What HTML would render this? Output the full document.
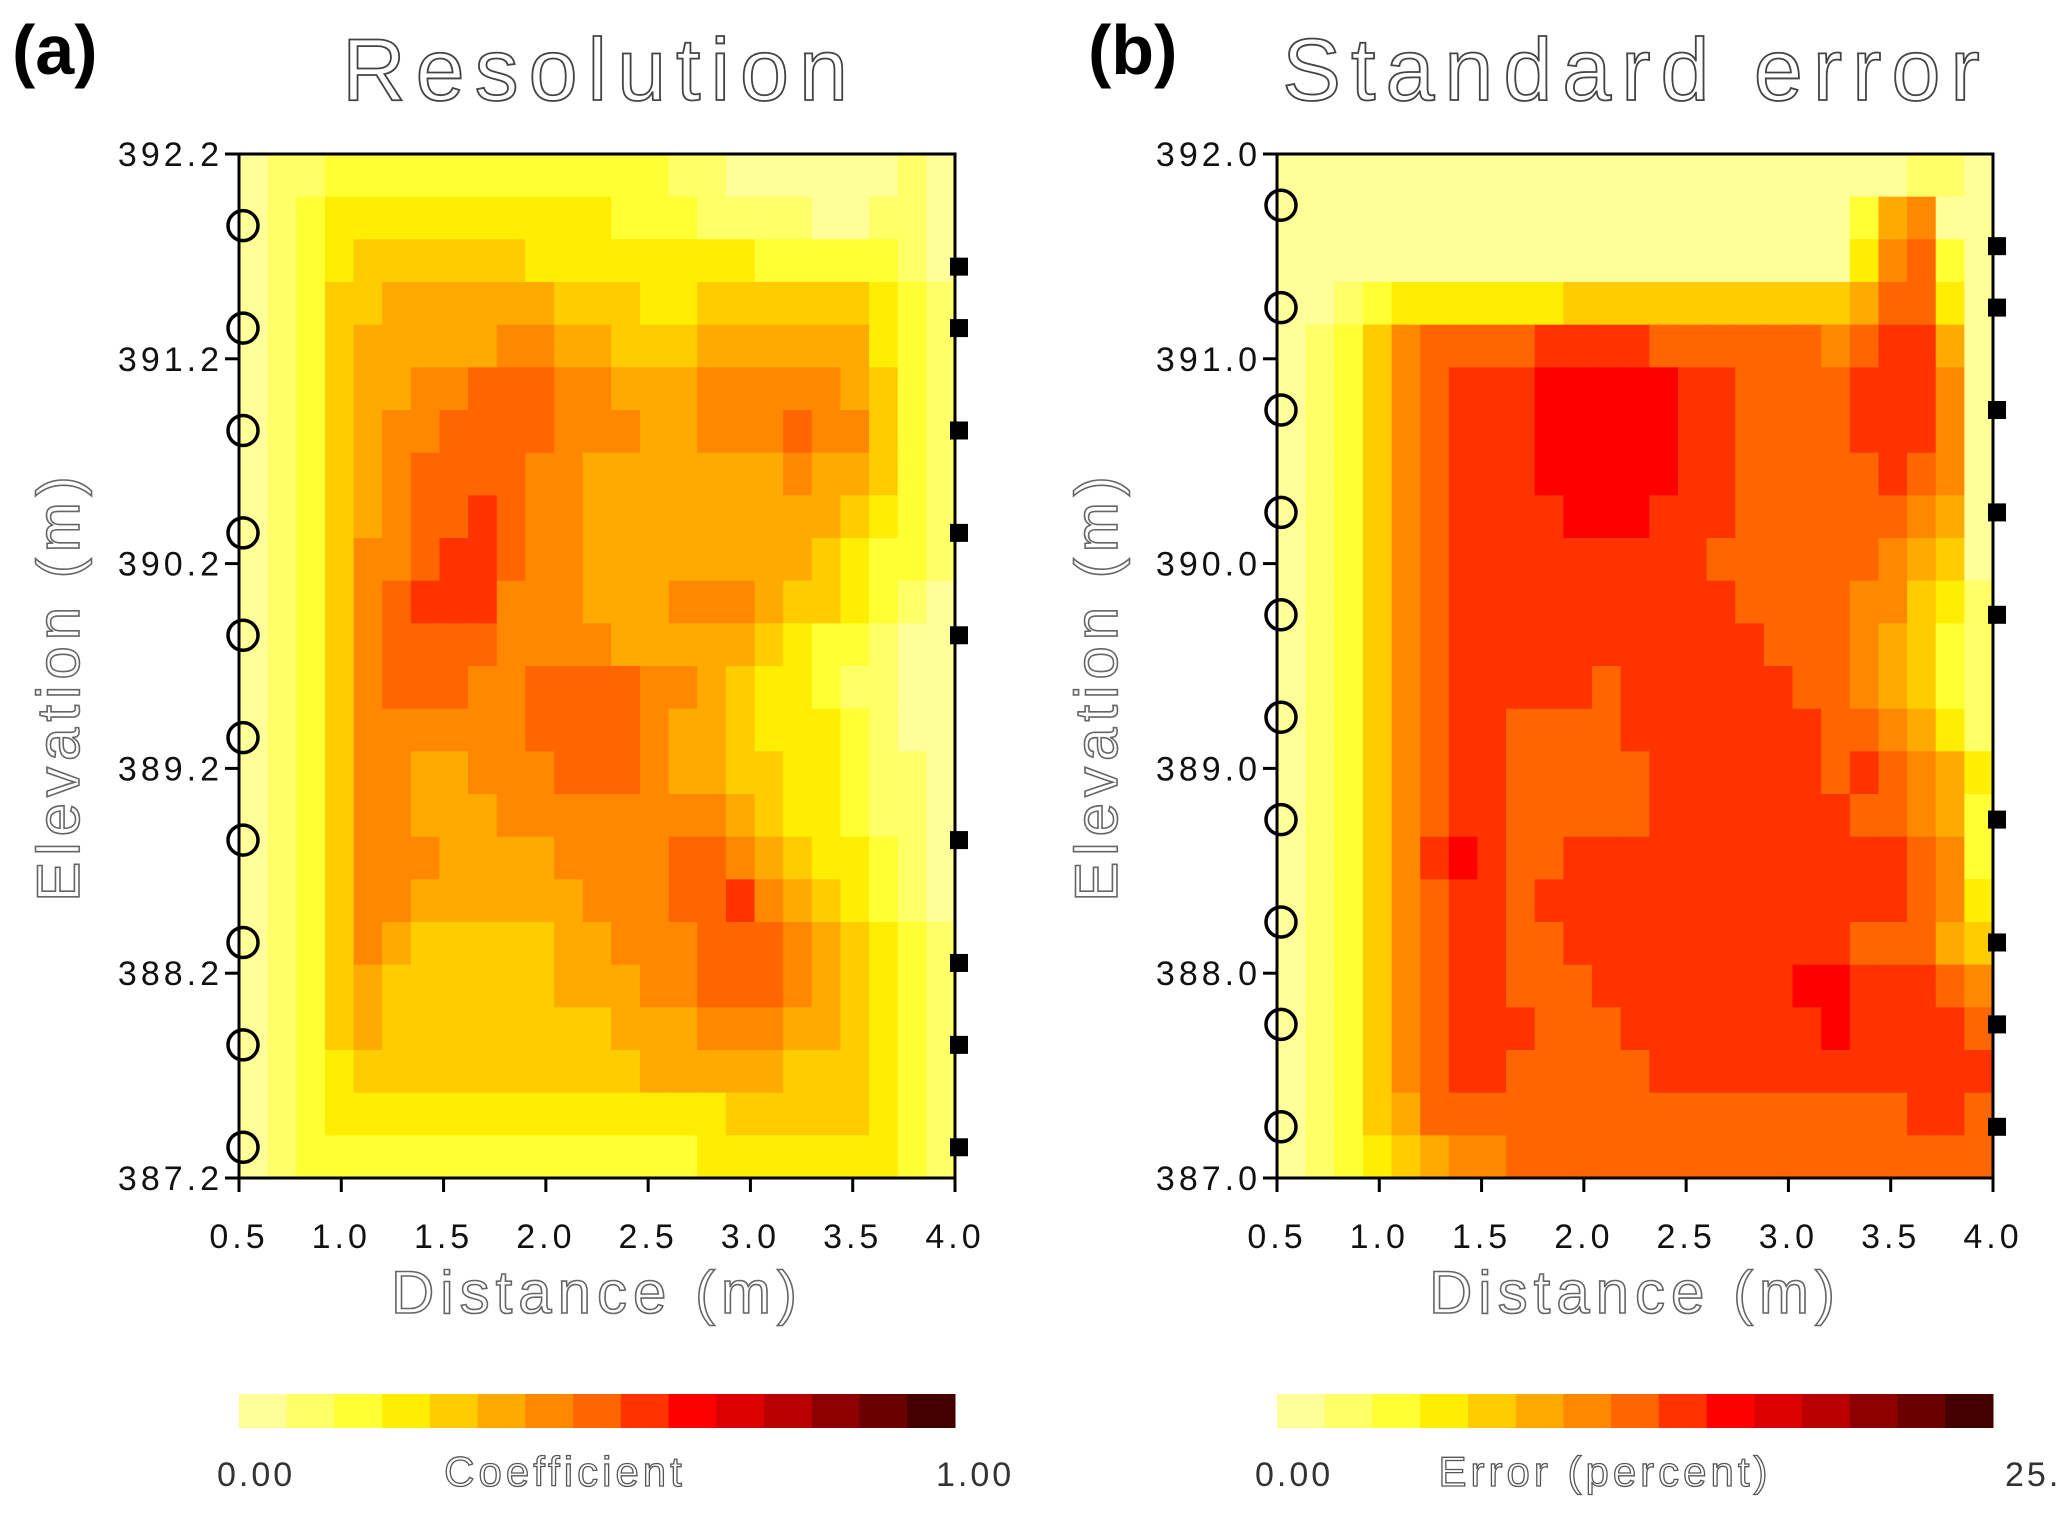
<!DOCTYPE html>
<html><head><meta charset="utf-8"><style>
html,body{margin:0;padding:0;background:#fff;}
svg{display:block;font-family:"Liberation Sans",sans-serif;}
</style></head><body>
<svg id="fig" width="2067" height="1517" viewBox="0 0 2067 1517">
<g id="root"></g>
</svg>
<script>
const palette=["#ffff99","#ffff66","#ffff33","#ffee00","#ffcc00","#ffaa00","#ff8800","#ff6600","#ff3300","#ff0000","#dd0000","#bb0000","#8e0000","#6a0000","#440000"];
const xTicks=[0.5,1.0,1.5,2.0,2.5,3.0,3.5,4.0];
const gridA=[
"0112222222222221100000010",
"0123333333333222111100110",
"0123444444333333332222210",
"0124455555544433444444321",
"0124555556655444555555321",
"0124556677766555666665421",
"0124566777766655666766421",
"0124567777665555555655421",
"0124567787665555555554321",
"0124667887665555555543221",
"0124678886665556665443210",
"0124677776666555554322100",
"0124677766777766543321100",
"0124666666777765543332100",
"0124665566677765544332110",
"0124665556666666654332110",
"0124666555566667765433210",
"0124665555556667786543210",
"0124654444455666777654321",
"0124544444455566777654321",
"0124544444444555666554321",
"0123444444444455555444321",
"0123333333333333344444321",
"0122222222222222333333321"];
const gridB=[
"0000000000000000000000110",
"0000000000000000000025600",
"0000000000000000000036720",
"0012333333444444444457730",
"0124677778888777777678850",
"0124678889999988777788860",
"0124678889999988777788860",
"0124678889999988777778760",
"0124678888999888777777650",
"0124678888888887777776540",
"0124678888888888777766431",
"0124678888888888877765421",
"0124678888878888887765421",
"0124678877778888888776531",
"0124678877777888888787653",
"0124678877777888888877652",
"0124689877888888888888762",
"0124678878888888888888763",
"0124678877888888888877754",
"0124678877788888889988876",
"0124678887778888888988887",
"0124678877777888888888888",
"0124577777777777777777887",
"0123456677777777777777777"];
const yTicksA=[392.2,391.2,390.2,389.2,388.2,387.2];
const yTicksB=[392.0,391.0,390.0,389.0,388.0,387.0];
const circlesA=[391.85,391.35,390.85,390.35,389.85,389.35,388.85,388.35,387.85,387.35];
const squaresA=[391.65,391.35,390.85,390.35,389.85,388.85,388.25,387.85,387.35];
const circlesB=[391.75,391.25,390.75,390.25,389.75,389.25,388.75,388.25,387.75,387.25];
const squaresB=[391.55,391.25,390.75,390.25,389.75,388.75,388.15,387.75,387.25];
const NS="http://www.w3.org/2000/svg";
const root=document.getElementById('root');
function mk(tag,attrs,parent){const e=document.createElementNS(NS,tag);for(const k in attrs)e.setAttribute(k,attrs[k]);(parent||root).appendChild(e);return e;}
function txt(s,attrs,parent){const e=mk('text',attrs,parent);e.textContent=s;return e;}

function panel(o){
  const g=mk('g',{});
  
  
  const L=o.left,R=o.left+716,T=154,B=1178;
  const xs=v=>L+(v-0.5)/3.5*(R-L);
  const ys=v=>T+(o.ymax-v)/5*(B-T);
  const rows=o.grid.length,cols=o.grid[0].length;
  const hm=mk('g',{},g);
  
  
  for(let r=0;r<rows;r++)for(let c=0;c<cols;c++){
    const x0=xs(0.5+c*3.5/cols),x1=xs(0.5+(c+1)*3.5/cols);
    const y0=ys(o.ymax-r*5/rows),y1=ys(o.ymax-(r+1)*5/rows);
    const rc=mk('rect',{x:x0,y:y0,width:x1-x0+0.6,height:y1-y0+0.6,fill:palette[parseInt(o.grid[r][c],16)]},hm);
    
    
  }
  const fr=mk('rect',{x:L,y:T,width:R-L,height:B-T,fill:'none',stroke:'#000','stroke-width':3},g);
  
  
  o.yt.forEach(v=>{
    mk('line',{x1:L-14,x2:L,y1:ys(v),y2:ys(v),stroke:'#000','stroke-width':3},g);
    const t=txt(v.toFixed(1),{x:L-16,y:ys(v)+12,'text-anchor':'end','font-size':34,'letter-spacing':4,fill:'#111'},g);
    
    
  });
  xTicks.forEach(v=>{
    mk('line',{x1:xs(v),x2:xs(v),y1:B,y2:B+14,stroke:'#000','stroke-width':3},g);
    const t=txt(v.toFixed(1),{x:xs(v),y:B+70,'text-anchor':'middle','font-size':34,'letter-spacing':4,fill:'#111'},g);
    
    
  });
  o.circ.forEach(v=>{
    const c=mk('circle',{cx:L+4,cy:ys(v),r:15,fill:'none',stroke:'#000','stroke-width':3.5},g);
    
    
  });
  o.sq.forEach(v=>{
    const s=mk('rect',{x:R-5,y:ys(v)-9,width:18,height:18,fill:'#000'},g);
    
    
  });
  const xt=txt('Distance (m)',{x:(L+R)/2,y:1313,'text-anchor':'middle','font-size':60,'letter-spacing':6,fill:'#fff',stroke:'#666','stroke-width':1.6},g);
  
  
  const yt=txt('Elevation (m)',{x:0,y:0,'text-anchor':'middle','font-size':60,'letter-spacing':6,fill:'#fff',stroke:'#666','stroke-width':1.6,transform:`translate(${L-160},${(T+B)/2+20}) rotate(-90)`},g);
  
  
  const tt=txt(o.title,{x:o.titleX,y:100,'text-anchor':'middle','font-size':88,'letter-spacing':10,fill:'#fff',stroke:'#444','stroke-width':1.8},g);
  
  
  const pl=txt(o.label,{x:o.labelX,y:74,'font-size':70,'font-weight':'bold',fill:'#000'},g);
  
  
  const cb=mk('g',{},g);
  
  
  const w=(R-L)/palette.length;
  palette.forEach((col,i)=>{
    const s=mk('rect',{x:L+i*w,y:1394,width:w+0.5,height:34,fill:col},cb);
    
    
  });
  const a=txt('0.00',{x:L-22,y:1486,'font-size':34,'letter-spacing':3,fill:'#333'},cb);
  
  const b=txt(o.cbMax,{x:o.cbMaxX,y:1486,'font-size':34,'letter-spacing':3,fill:'#333'},cb);
  
  const c=txt(o.cbTitle,{x:o.cbTitleX,y:1486,'text-anchor':'middle','font-size':42,'letter-spacing':4,fill:'#fff',stroke:'#555','stroke-width':1.3},cb);
  
}
panel({name:'panel-a-resolution',left:239,ymax:392.2,grid:gridA,yt:yTicksA,circ:circlesA,sq:squaresA,title:'Resolution',titleX:600,label:'(a)',labelX:12,cbMax:'1.00',cbMaxX:936,cbTitle:'Coefficient',cbTitleX:565});
panel({name:'panel-b-standard-error',left:1277,ymax:392.0,grid:gridB,yt:yTicksB,circ:circlesB,sq:squaresB,title:'Standard error',titleX:1636,label:'(b)',labelX:1088,cbMax:'25.',cbMaxX:2005,cbTitle:'Error (percent)',cbTitleX:1605});
</script>
</body></html>
